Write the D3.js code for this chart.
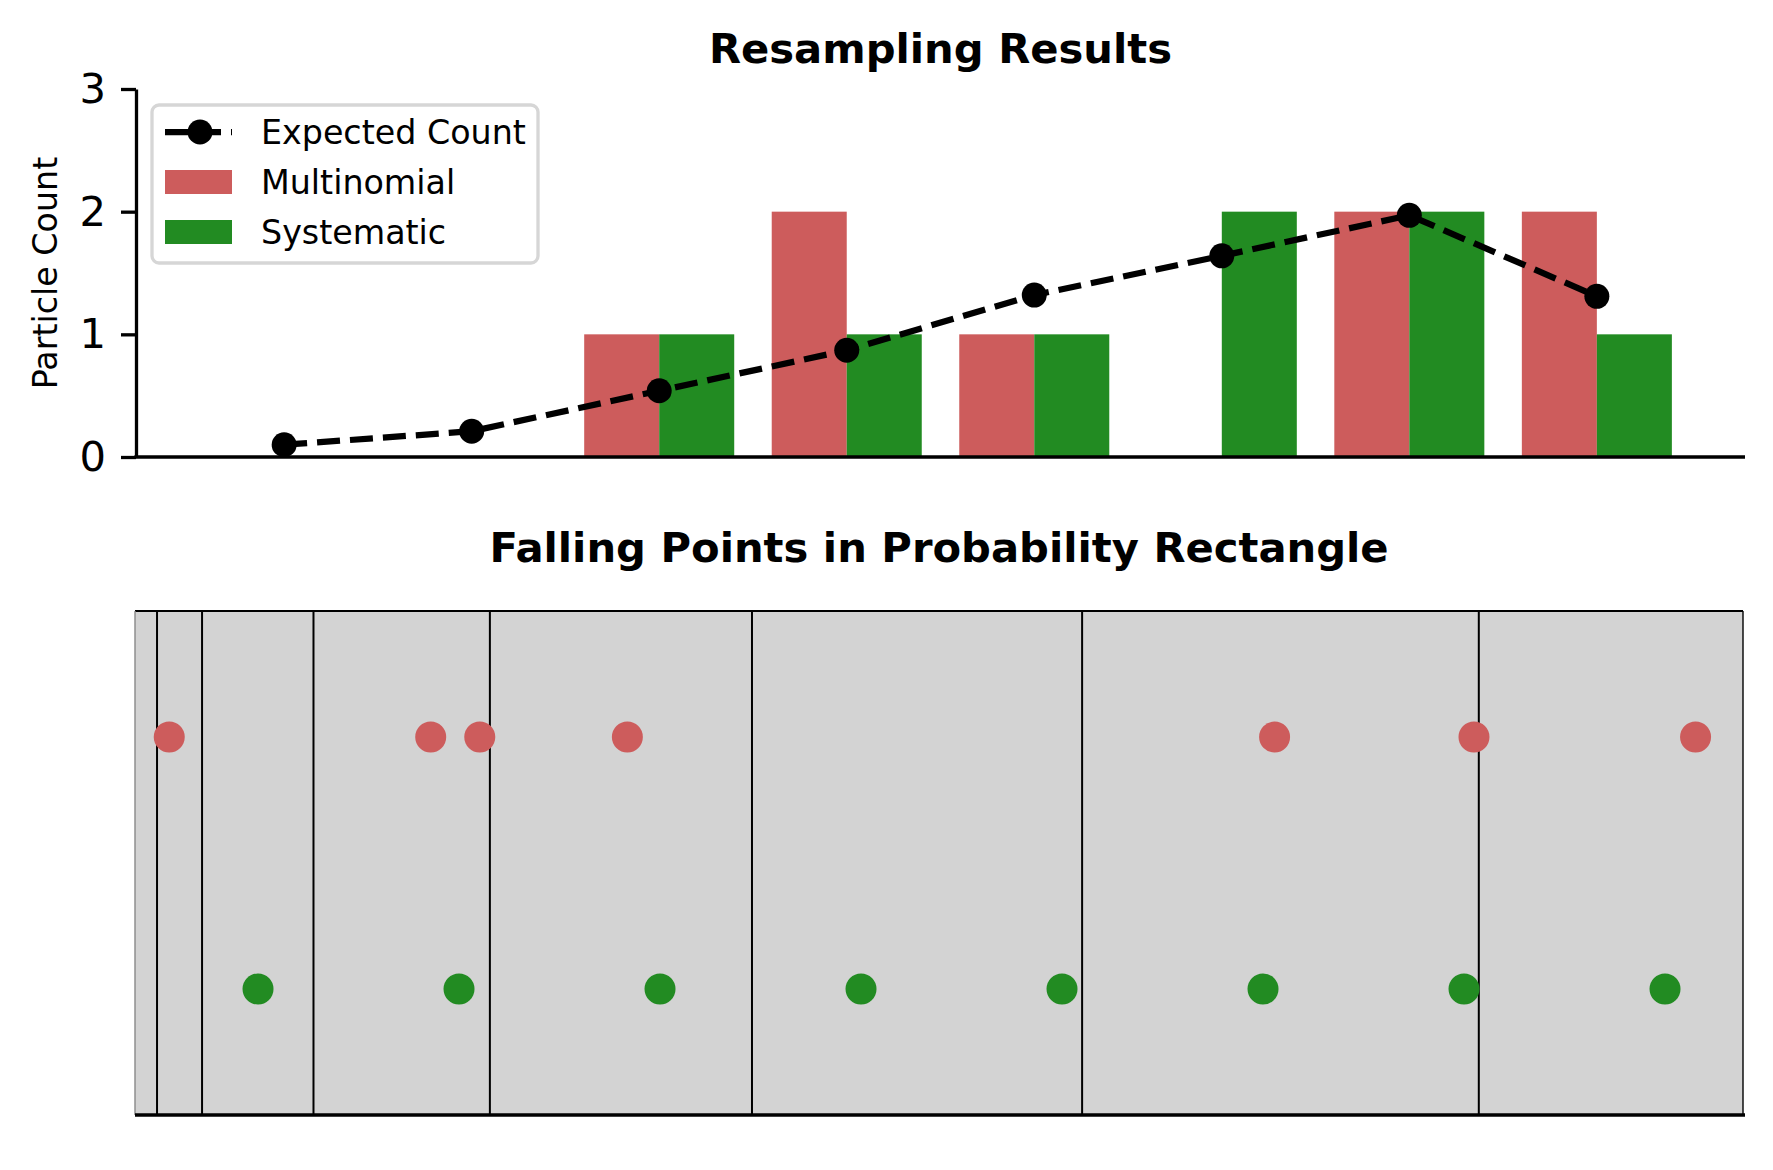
<!DOCTYPE html>
<html>
<head>
<meta charset="utf-8">
<script src="https://cdn.jsdelivr.net/npm/d3@7"></script>
<style>
  body { margin: 0; background: #fff; }
  svg { display: block; font-family: "DejaVu Sans", sans-serif; }
</style>
</head>
<body>
<svg width="1773" height="1170"></svg>
<script>
// values
var particles = [0, 1, 2, 3, 4, 5, 6, 7];
var expectedCount = [0.10, 0.21, 0.54, 0.87, 1.32, 1.64, 1.97, 1.31];
var multinomialCount = [0, 0, 1, 2, 1, 0, 2, 2];
var systematicCount = [0, 0, 1, 1, 1, 2, 2, 1];
var yTicks = [0, 1, 2, 3];

// lower panel: cumulative weight boundaries and falling points
var boundaries = [0.0137, 0.0417, 0.111, 0.2207, 0.3837, 0.589, 0.8357];
var multinomialPoints = [0.0213, 0.1839, 0.2144, 0.3062, 0.7087, 0.8327, 0.9705];
var systematicPoints = [0.0765, 0.2015, 0.3265, 0.4515, 0.5765, 0.7015, 0.8265, 0.9515];
var multinomialLevel = 0.75;
var systematicLevel = 0.25;

var red = "#cd5c5c", green = "#228b22";

var svg = d3.select("svg");

// ---------- top panel ----------
var x = d3.scaleLinear().domain([-0.79, 7.79]).range([136, 1745]);
var y = d3.scaleLinear().domain([0, 3]).range([457, 89]);
var barW = 0.4;

var topPanel = svg.append("g");

topPanel.append("g").selectAll("rect")
  .data(particles.filter(function(i) { return multinomialCount[i] > 0; }))
  .enter().append("rect")
    .attr("x", function(i) { return x(i - barW); })
    .attr("y", function(i) { return y(multinomialCount[i]); })
    .attr("width", x(barW) - x(0))
    .attr("height", function(i) { return y(0) - y(multinomialCount[i]); })
    .attr("fill", red);

topPanel.append("g").selectAll("rect")
  .data(particles.filter(function(i) { return systematicCount[i] > 0; }))
  .enter().append("rect")
    .attr("x", function(i) { return x(i); })
    .attr("y", function(i) { return y(systematicCount[i]); })
    .attr("width", x(barW) - x(0))
    .attr("height", function(i) { return y(0) - y(systematicCount[i]); })
    .attr("fill", green);

var line = d3.line()
  .x(function(i) { return x(i); })
  .y(function(i) { return y(expectedCount[i]); });

topPanel.append("path")
  .datum(particles)
  .attr("d", line)
  .attr("fill", "none")
  .attr("stroke", "#000")
  .attr("stroke-width", 6.25)
  .attr("stroke-dasharray", "23,10");

topPanel.append("g").selectAll("circle")
  .data(particles)
  .enter().append("circle")
    .attr("cx", function(i) { return x(i); })
    .attr("cy", function(i) { return y(expectedCount[i]); })
    .attr("r", 12.5)
    .attr("fill", "#000");

// axes
var yAxis = topPanel.append("g")
  .attr("transform", "translate(136,0)")
  .call(d3.axisLeft(y).tickValues(yTicks).tickFormat(d3.format("d"))
    .tickSize(15).tickSizeOuter(0).tickPadding(15));
yAxis.select(".domain").attr("stroke-width", 3.3);
yAxis.selectAll(".tick line").attr("stroke-width", 3.3);
yAxis.selectAll(".tick text")
  .attr("font-size", 41.7)
  .attr("font-family", "DejaVu Sans")
  .attr("fill", "#000");

topPanel.append("line")
  .attr("x1", 136 - 1.6).attr("x2", x.range()[1])
  .attr("y1", y(0)).attr("y2", y(0))
  .attr("stroke", "#000").attr("stroke-width", 3.3);

topPanel.append("text")
  .attr("transform", "translate(45," + ((y(0) + y(3)) / 2) + ") rotate(-90)")
  .attr("text-anchor", "middle")
  .attr("dy", "0.35em")
  .attr("font-size", 33.3)
  .text("Particle Count");

topPanel.append("text")
  .attr("x", (x.range()[0] + x.range()[1]) / 2)
  .attr("y", 63)
  .attr("text-anchor", "middle")
  .attr("font-size", 41.7)
  .attr("font-weight", "bold")
  .text("Resampling Results");

// legend
var legend = topPanel.append("g");
legend.append("rect")
  .attr("x", 152).attr("y", 105)
  .attr("width", 386).attr("height", 158)
  .attr("rx", 7)
  .attr("fill", "#fff")
  .attr("fill-opacity", 0.8)
  .attr("stroke", "#d6d6d6")
  .attr("stroke-width", 3.3);

var legendItems = [
  {label: "Expected Count", kind: "line"},
  {label: "Multinomial", kind: "bar", color: red},
  {label: "Systematic", kind: "bar", color: green}
];

var item = legend.selectAll("g.item")
  .data(legendItems)
  .enter().append("g")
    .attr("class", "item")
    .attr("transform", function(d, i) { return "translate(165," + (132 + i * 50) + ")"; });

item.filter(function(d) { return d.kind === "line"; })
  .each(function() {
    var g = d3.select(this);
    g.append("line")
      .attr("x1", 0).attr("x2", 67).attr("y1", 0).attr("y2", 0)
      .attr("stroke", "#000").attr("stroke-width", 6.25)
      .attr("stroke-dasharray", "23,10");
    g.append("circle").attr("cx", 35).attr("cy", 0).attr("r", 12.5).attr("fill", "#000");
  });

item.filter(function(d) { return d.kind === "bar"; })
  .append("rect")
    .attr("x", 0).attr("y", -12)
    .attr("width", 67).attr("height", 24)
    .attr("fill", function(d) { return d.color; });

item.append("text")
  .attr("x", 96)
  .attr("dy", "0.36em")
  .attr("font-size", 33.3)
  .text(function(d) { return d.label; });

// ---------- bottom panel ----------
var x2 = d3.scaleLinear().domain([0, 1]).range([135, 1743]);
var y2 = d3.scaleLinear().domain([0, 1]).range([1115, 611]);

var bottomPanel = svg.append("g");

bottomPanel.append("rect")
  .attr("x", x2(0)).attr("y", y2(1))
  .attr("width", x2(1) - x2(0))
  .attr("height", y2(0) - y2(1))
  .attr("fill", "#d3d3d3");

bottomPanel.append("line")
  .attr("x1", x2(0)).attr("x2", x2(1))
  .attr("y1", y2(1)).attr("y2", y2(1))
  .attr("stroke", "#000").attr("stroke-width", 2.2);

bottomPanel.selectAll("line.edge")
  .data([0, 1])
  .enter().append("line")
    .attr("class", "edge")
    .attr("x1", function(d) { return x2(d); })
    .attr("x2", function(d) { return x2(d); })
    .attr("y1", y2(1)).attr("y2", y2(0))
    .attr("stroke", function(d) { return d === 0 ? "#888" : "#000"; })
    .attr("stroke-width", 1.4);

bottomPanel.selectAll("line.bound")
  .data(boundaries)
  .enter().append("line")
    .attr("class", "bound")
    .attr("x1", function(d) { return x2(d); })
    .attr("x2", function(d) { return x2(d); })
    .attr("y1", y2(1)).attr("y2", y2(0))
    .attr("stroke", "#000")
    .attr("stroke-width", 2);

bottomPanel.selectAll("circle.multi")
  .data(multinomialPoints)
  .enter().append("circle")
    .attr("class", "multi")
    .attr("cx", function(d) { return x2(d); })
    .attr("cy", y2(multinomialLevel))
    .attr("r", 15.5)
    .attr("fill", red);

bottomPanel.selectAll("circle.sys")
  .data(systematicPoints)
  .enter().append("circle")
    .attr("class", "sys")
    .attr("cx", function(d) { return x2(d); })
    .attr("cy", y2(systematicLevel))
    .attr("r", 15.5)
    .attr("fill", green);

bottomPanel.append("line")
  .attr("x1", x2(0)).attr("x2", x2(1) + 2)
  .attr("y1", y2(0)).attr("y2", y2(0))
  .attr("stroke", "#000").attr("stroke-width", 3.3);

bottomPanel.append("text")
  .attr("x", (x2(0) + x2(1)) / 2)
  .attr("y", 562)
  .attr("text-anchor", "middle")
  .attr("font-size", 41.7)
  .attr("font-weight", "bold")
  .text("Falling Points in Probability Rectangle");
</script>
</body>
</html>
